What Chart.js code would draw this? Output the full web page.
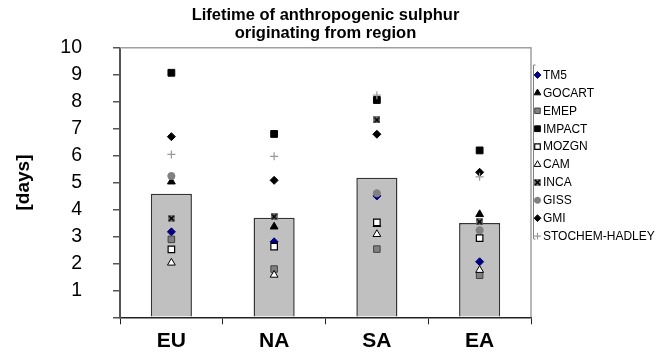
<!DOCTYPE html>
<html>
<head>
<meta charset="utf-8">
<script src="https://cdn.jsdelivr.net/npm/chart.js@4"></script>
<style>
  html, body { margin: 0; padding: 0; background: #fff; }
  #wrap { width: 659px; height: 358px; }
</style>
</head>
<body>
<div id="wrap"><canvas id="lifetimeChart" width="659" height="358"></canvas></div>
<script>
// Source regions and the model-ensemble bar
const regions = ['EU', 'NA', 'SA', 'EA'];
const ensemble = [4.58, 3.69, 5.18, 3.50];

// Lifetime per model, in days (null = not shown)
const tm5     = [3.17, 2.80, 4.50, 2.06];
const gocart  = [5.03, 3.36, 3.45, 3.82];
const emep    = [2.89, 1.79, 2.53, 1.56];
const impact  = [9.07, 6.80, 8.06, 6.19];
const mozgn   = [2.52, 2.62, 3.52, 2.94];
const cam     = [2.02, 1.57, 3.08, 1.75];
const inca    = [3.67, 3.73, 7.32, 3.54];
const giss    = [5.24, null, 4.60, 3.23];
const gmi     = [6.70, 5.08, 6.79, 5.38];
const stochem = [6.04, 5.97, 8.24, 5.21];

const modelNames = ['TM5', 'GOCART', 'EMEP', 'IMPACT', 'MOZGN', 'CAM', 'INCA', 'GISS', 'GMI', 'STOCHEM-HADLEY'];
const modelValues = [tm5, gocart, emep, impact, mozgn, cam, inca, giss, gmi, stochem];

const FONT = '"Liberation Sans", Arial, sans-serif';
Chart.defaults.font.family = FONT;
Chart.defaults.color = '#000';

// grey box with a black X, used for INCA
function crossBox(size) {
  const c = document.createElement('canvas');
  c.width = c.height = size;
  const g = c.getContext('2d');
  g.fillStyle = '#7f7f7f';
  g.fillRect(0, 0, size, size);
  g.strokeStyle = '#000';
  g.lineWidth = 1.7;
  g.beginPath();
  g.moveTo(1, 1); g.lineTo(size - 1, size - 1);
  g.moveTo(size - 1, 1); g.lineTo(1, size - 1);
  g.stroke();
  return c;
}

const markers = [
  { pointStyle: 'rectRot',  radius: 4,   bg: '#000080', border: '#000080', bw: 1 },
  { pointStyle: 'triangle', radius: 4.5, bg: '#000',    border: '#000',    bw: 1 },
  { pointStyle: 'rect',     radius: 4.6, bg: '#808080', border: '#404040', bw: 1 },
  { pointStyle: 'rect',     radius: 4.8, bg: '#000',    border: '#000',    bw: 1 },
  { pointStyle: 'rect',     radius: 4.6, bg: '#fff',    border: '#000',    bw: 1.2 },
  { pointStyle: 'triangle', radius: 4.5, bg: '#fff',    border: '#000',    bw: 1 },
  { pointStyle: crossBox(7), radius: 4, bg: '#808080', border: '#000',    bw: 1 },
  { pointStyle: 'circle',   radius: 3.6, bg: '#808080', border: '#808080', bw: 1 },
  { pointStyle: 'rectRot',  radius: 4,   bg: '#000',    border: '#000',    bw: 1 },
  { pointStyle: 'cross',    radius: 4,   bg: '#999',    border: '#999',    bw: 1.2 }
];

const datasets = [{
  type: 'bar',
  label: 'ensemble',
  data: ensemble,
  backgroundColor: '#c0c0c0',
  borderColor: '#333',
  borderWidth: 1.5,
  barPercentage: 0.4,
  categoryPercentage: 1,
  order: 20
}];

modelNames.forEach((name, i) => {
  const m = markers[i];
  datasets.push({
    type: 'line',
    label: name,
    data: modelValues[i],
    showLine: false,
    pointStyle: m.pointStyle,
    pointRadius: m.radius,
    pointBackgroundColor: m.bg,
    pointBorderColor: m.border,
    pointBorderWidth: m.bw,
    order: 10 - i
  });
});

// plot frame (top and right) and the model key on the right
const frameAndKey = {
  id: 'frameAndKey',
  beforeDatasetsDraw(chart) {
    const { ctx, chartArea: a } = chart;
    ctx.save();
    ctx.strokeStyle = '#a0a0a0';
    ctx.lineWidth = 1.5;
    ctx.beginPath();
    ctx.moveTo(a.left, a.top);
    ctx.lineTo(a.right, a.top);
    ctx.lineTo(a.right, a.bottom);
    ctx.stroke();
    ctx.restore();
  },
  afterDraw(chart) {
    const { ctx } = chart;
    ctx.save();
    ctx.strokeStyle = '#808080';
    ctx.lineWidth = 1;
    ctx.beginPath();
    ctx.moveTo(535.5, 65);
    ctx.lineTo(533.5, 65);
    ctx.lineTo(533.5, 239);
    ctx.lineTo(535.5, 239);
    ctx.stroke();
    ctx.font = '12px ' + FONT;
    ctx.textBaseline = 'middle';
    ctx.fillStyle = '#000';
    modelNames.forEach((name, i) => {
      const m = markers[i];
      const y = 75 + i * 17.9;
      ctx.fillStyle = m.bg;
      ctx.strokeStyle = m.border;
      ctx.lineWidth = m.bw;
      Chart.helpers.drawPoint(ctx, { pointStyle: m.pointStyle, radius: m.radius * 0.85, rotation: 0, borderWidth: m.bw }, 537.5, y);
      ctx.fillStyle = '#000';
      ctx.fillText(name, 543, y + 0.5);
    });
    ctx.restore();
  }
};

new Chart(document.getElementById('lifetimeChart'), {
  data: { labels: regions, datasets: datasets },
  options: {
    responsive: false,
    animation: false,
    layout: { padding: { top: 0, right: 128, left: 0, bottom: 0 } },
    plugins: {
      legend: { display: false },
      tooltip: { enabled: false },
      title: {
        display: true,
        fullSize: false,
        text: ['Lifetime of anthropogenic sulphur', 'originating from region'],
        font: { size: 16.5, weight: 'bold', lineHeight: '18px' },
        color: '#000',
        padding: { top: 6, bottom: 5.7 }
      }
    },
    scales: {
      x: {
        type: 'category',
        offset: true,
        border: { color: '#222', width: 1.5 },
        grid: { offset: true, drawOnChartArea: false, tickLength: 7, color: '#222', lineWidth: 1 },
        ticks: { font: { size: 21, weight: 'bold' }, padding: 4, color: '#000' },
        afterFit(scale) { scale.height = 40.7; scale.paddingLeft = 0; scale.paddingRight = 0; }
      },
      y: {
        min: 0,
        max: 10,
        border: { color: '#555', width: 2 },
        grid: { drawOnChartArea: false, tickLength: 7, color: '#555', lineWidth: 1.5 },
        ticks: {
          stepSize: 1,
          font: { size: 19.5 },
          padding: 31,
          color: '#000',
          callback: v => (v === 0 ? '' : v)
        },
        title: {
          display: true,
          text: '[days]',
          font: { size: 19, weight: 'bold' },
          color: '#000',
          padding: { top: 12, bottom: 0 }
        },
        afterFit(scale) { scale.width = 120; scale.paddingTop = 0; scale.paddingBottom = 0; }
      }
    }
  },
  plugins: [frameAndKey]
});
</script>
</body>
</html>
